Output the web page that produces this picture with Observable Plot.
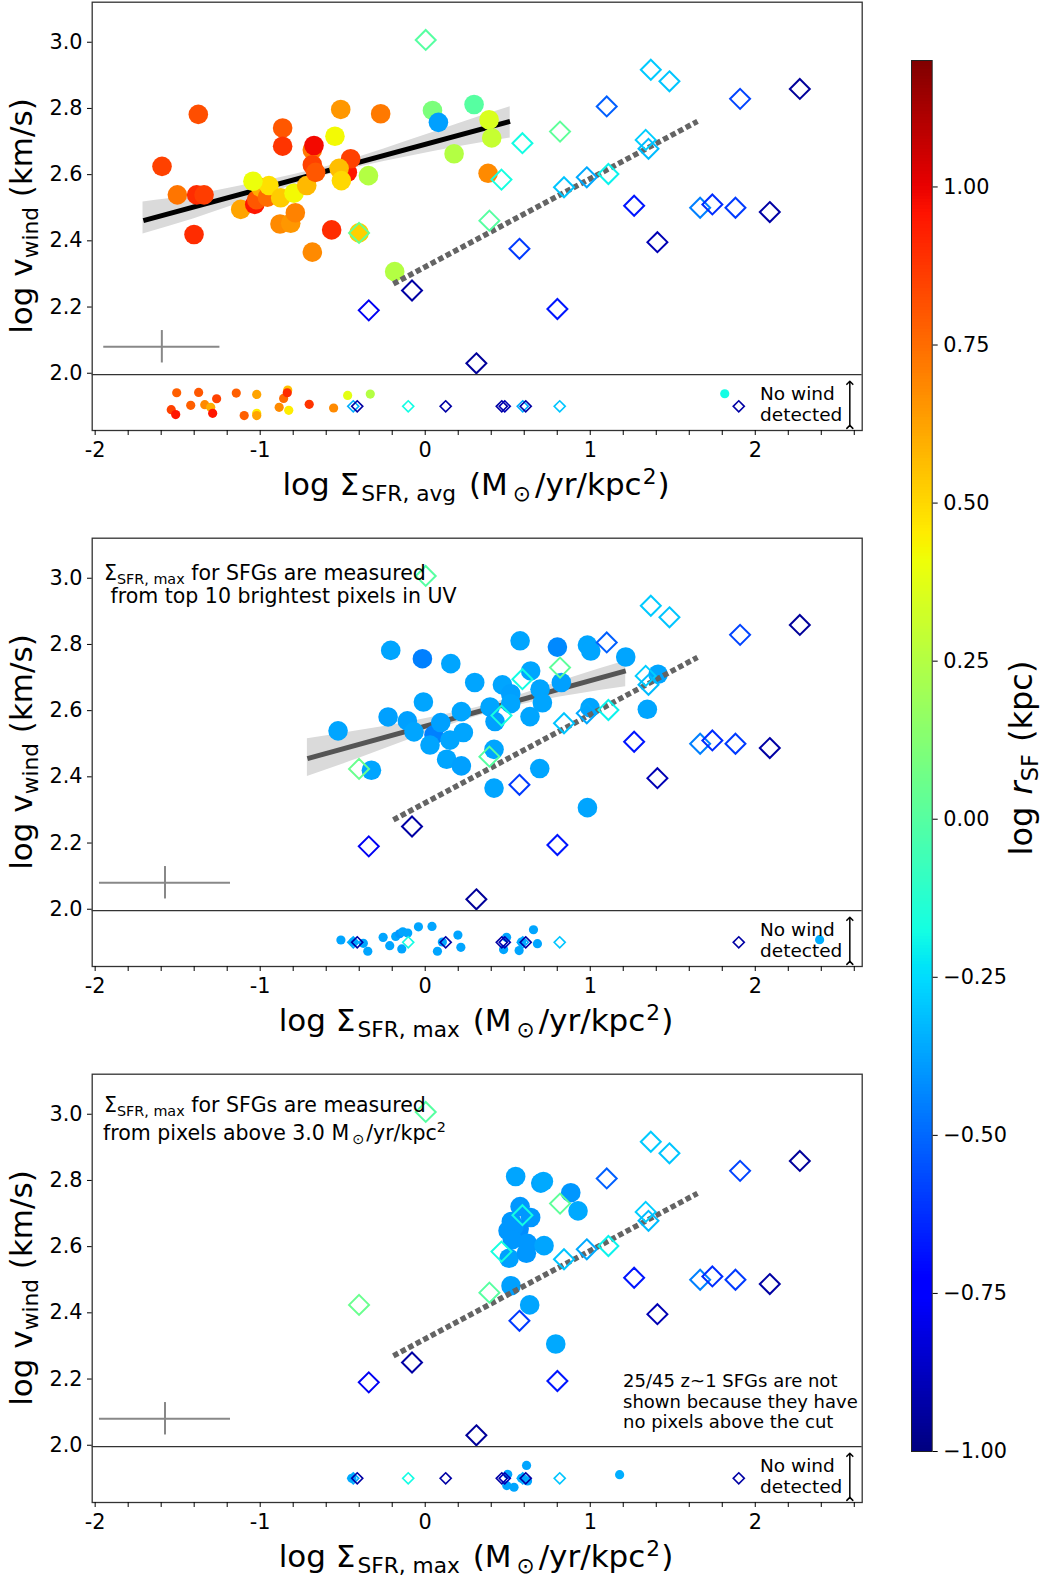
<!DOCTYPE html>
<html><head><meta charset="utf-8">
<script src="https://cdn.jsdelivr.net/npm/d3@7"></script>
<script src="https://cdn.jsdelivr.net/npm/@observablehq/plot@0.6"></script>
<style>
html,body{margin:0;padding:0;background:#fff;overflow:hidden;}
#root{position:relative;width:1045px;height:1579px;font-family:"DejaVu Sans",sans-serif;}
#root svg{position:absolute;overflow:visible;}
text{white-space:pre;}
</style></head><body><div id="root"></div>
<script>
// ---------------- data (x = log Σ_SFR, y = log v_wind, v = log r_SF) ----------------
// comparison sample (open diamonds), identical in all three panels
const diamonds = [
  [0.003,3.007,0.0],[1.367,2.917,-0.29],[1.48,2.882,-0.3],[1.10,2.806,-0.52],[1.908,2.829,-0.58],
  [2.27,2.859,-0.95],[0.817,2.73,0.02],[0.589,2.695,-0.18],[1.336,2.705,-0.28],[1.353,2.678,-0.32],
  [0.462,2.585,-0.17],[1.11,2.602,-0.2],[0.979,2.592,-0.36],[0.841,2.562,-0.3],[1.266,2.506,-0.68],
  [1.666,2.50,-0.45],[1.74,2.51,-0.63],[1.88,2.50,-0.6],[2.088,2.487,-0.93],[0.389,2.461,0.0],
  [1.407,2.396,-0.9],[0.571,2.376,-0.6],[0.801,2.194,-0.68],[0.31,2.030,-0.95],[-0.401,2.424,0.05],
  [-0.08,2.25,-0.93],[-0.342,2.19,-0.78]
];
const stripDiamondX = [-0.436,-0.412,-0.103,0.124,0.464,0.482,0.591,0.609,0.815,1.9];
const stripDiamondV = [-0.35,-0.93,-0.18,-0.93,-0.93,-0.9,-0.35,-0.93,-0.3,-0.93];
const stripDiamondY = 1.90;

// panel 1: Σ_SFR,avg
const avgCircles = [
  [-1.595,2.625,0.85],[-1.502,2.539,0.73],[-1.375,2.782,0.82],[-1.385,2.539,0.9],[-1.34,2.539,0.86],
  [-1.401,2.419,0.9],[-1.118,2.495,0.62],[-1.033,2.51,0.95],[-1.021,2.524,0.8],[-0.997,2.562,0.6],
  [-0.956,2.532,0.75],[-0.947,2.567,0.48],[-1.044,2.58,0.4],[-0.864,2.741,0.8],[-0.864,2.686,0.88],
  [-0.876,2.53,0.53],[-0.795,2.544,0.42],[-0.88,2.451,0.68],[-0.815,2.453,0.65],[-0.787,2.485,0.7],
  [-0.718,2.567,0.57],[-0.684,2.366,0.68],[-0.684,2.675,0.72],[-0.674,2.688,0.98],[-0.684,2.63,0.85],
  [-0.664,2.607,0.8],[-0.547,2.716,0.42],[-0.512,2.797,0.65],[-0.472,2.607,0.95],[-0.452,2.648,0.85],
  [-0.522,2.619,0.56],[-0.508,2.582,0.5],[-0.567,2.433,0.9],[-0.401,2.424,0.52],[-0.344,2.597,0.25],
  [-0.27,2.784,0.72],[-0.185,2.307,0.25],[0.044,2.794,0.1],[0.08,2.758,-0.38],[0.175,2.663,0.25],
  [0.296,2.812,0.0],[0.387,2.766,0.35],[0.403,2.711,0.3],[0.381,2.604,0.68]
];
const avgStrip = [
  [-1.506,1.941,0.78],[-1.539,1.890,0.85],[-1.512,1.875,0.95],[-1.373,1.942,0.8],[-1.421,1.903,0.78],
  [-1.336,1.905,0.68],[-1.30,1.897,0.6],[-1.288,1.879,0.95],[-1.264,1.923,0.85],[-1.145,1.940,0.78],
  [-1.097,1.872,0.78],[-1.021,1.936,0.62],[-1.021,1.879,0.45],[-1.021,1.872,0.62],[-0.885,1.897,0.68],
  [-0.858,1.924,0.75],[-0.833,1.949,0.55],[-0.836,1.941,0.9],[-0.827,1.888,0.45],[-0.703,1.906,0.88],
  [-0.555,1.895,0.68],[-0.470,1.933,0.38],[-0.333,1.937,0.25],[1.815,1.938,-0.18]
];
const avgFitX = [-1.708,0.514], avgFitY = [2.461,2.761];
const avgBandX  = [-1.71,-1.4,-1.1,-0.8,-0.6,-0.4,-0.1,0.2,0.515];
const avgBandLo = [2.421,2.467,2.518,2.568,2.598,2.623,2.655,2.684,2.711];
const avgBandHi = [2.517,2.539,2.568,2.600,2.624,2.653,2.703,2.754,2.805];

// panel 2: Σ_SFR,max (top 10 brightest pixels)
const top10Circles = [
  [-0.528,2.539,-0.37],[-0.209,2.782,-0.37],[-0.017,2.757,-0.45],[0.155,2.742,-0.37],[-0.225,2.581,-0.38],
  [-0.011,2.626,-0.37],[-0.108,2.569,-0.38],[-0.068,2.536,-0.37],[0.053,2.527,-0.45],[0.094,2.564,-0.38],
  [0.029,2.496,-0.37],[0.15,2.511,-0.37],[0.13,2.453,-0.37],[0.219,2.597,-0.37],[0.231,2.534,-0.37],
  [0.219,2.433,-0.38],[-0.326,2.420,-0.37],[0.30,2.685,-0.37],[0.393,2.611,-0.37],[0.423,2.567,-0.38],
  [0.468,2.678,-0.37],[0.518,2.651,-0.38],[0.518,2.621,-0.37],[0.417,2.483,-0.37],[0.417,2.366,-0.37],
  [0.635,2.582,-0.37],[0.575,2.811,-0.37],[0.639,2.720,-0.37],[0.696,2.665,-0.37],[0.71,2.624,-0.37],
  [0.694,2.425,-0.37],[0.801,2.792,-0.43],[0.825,2.685,-0.38],[0.983,2.798,-0.37],[1.003,2.78,-0.37],
  [0.999,2.609,-0.37],[0.983,2.307,-0.37],[1.215,2.762,-0.37],[1.411,2.71,-0.37],[1.346,2.604,-0.37]
];
const top10Strip = [
  [-0.511,1.907,-0.37],[-0.436,1.901,-0.37],[-0.375,1.897,-0.37],[-0.348,1.873,-0.37],[-0.255,1.915,-0.37],
  [-0.215,1.890,-0.37],[-0.179,1.918,-0.37],[-0.155,1.926,-0.4],[-0.136,1.932,-0.37],[-0.106,1.928,-0.37],
  [-0.142,1.88,-0.37],[-0.041,1.947,-0.37],[0.041,1.948,-0.37],[0.074,1.873,-0.37],[0.104,1.901,-0.37],
  [0.198,1.922,-0.37],[0.216,1.885,-0.37],[0.475,1.878,-0.37],[0.493,1.915,-0.37],[0.569,1.875,-0.37],
  [0.584,1.901,-0.37],[0.656,1.938,-0.37],[0.68,1.896,-0.37],[2.39,1.908,-0.35]
];
const top10FitX = [-0.714,1.215], top10FitY = [2.455,2.72];
const top10BandX  = [-0.714,-0.4,-0.1,0.2,0.4,0.6,0.9,1.215];
const top10BandLo = [2.401,2.456,2.512,2.565,2.595,2.620,2.648,2.672];
const top10BandHi = [2.515,2.540,2.566,2.597,2.621,2.652,2.702,2.750];

// panel 3: Σ_SFR,max (pixels above 3.0 Msun/yr/kpc^2)
const cutCircles = [
  [0.548,2.812,-0.37],[0.70,2.792,-0.37],[0.716,2.797,-0.36],[0.882,2.763,-0.4],[0.926,2.708,-0.36],
  [0.575,2.721,-0.4],[0.639,2.688,-0.4],[0.522,2.676,-0.4],[0.502,2.648,-0.4],[0.569,2.654,-0.42],
  [0.538,2.661,-0.4],[0.528,2.621,-0.4],[0.619,2.61,-0.4],[0.72,2.603,-0.37],[0.508,2.565,-0.38],
  [0.613,2.580,-0.4],[0.52,2.482,-0.38],[0.633,2.424,-0.37],[0.791,2.306,-0.36]
];
const cutStrip = [
  [-0.445,1.90,-0.37],[0.50,1.912,-0.37],[0.494,1.878,-0.37],[0.538,1.873,-0.37],[0.614,1.939,-0.37],
  [0.62,1.892,-0.37],[0.584,1.90,-0.37],[1.178,1.911,-0.35]
];

// shared reference relation (dotted) and typical error bar
const refLineX = [-0.193,1.65], refLineY = [2.27,2.761];
const errCenterX = [-1.596,-1.577,-1.577], errHalfX = [0.352,0.397,0.397];
const errCenterY = 2.08, errHalfY = 0.049;
const stripDivider = 1.996;
const noWindArrowX = 2.573, noWindArrowY = [1.838,1.971];

const xTicks = [-2,-1.8,-1.6,-1.4,-1.2,-1,-0.8,-0.6,-0.4,-0.2,0,0.2,0.4,0.6,0.8,1,1.2,1.4,1.6,1.8,2,2.2,2.4,2.6];
const yTicks = [2.0,2.2,2.4,2.6,2.8,3.0];
const cbTicks = [-1,-0.75,-0.5,-0.25,0,0.25,0.5,0.75,1];

// ---------------- jet colormap ----------------
function jet(t) {
  const c = Math.max(0, Math.min(1, t));
  const seg = (pts) => {
    for (let i = 1; i < pts.length; i++) {
      if (c <= pts[i][0]) {
        const [x0,y0] = pts[i-1], [x1,y1] = pts[i];
        return y0 + (y1 - y0) * (c - x0) / (x1 - x0);
      }
    }
    return pts[pts.length-1][1];
  };
  const r = seg([[0,0],[0.35,0],[0.66,1],[0.89,1],[1,0.5]]);
  const g = seg([[0,0],[0.125,0],[0.375,1],[0.64,1],[0.91,0],[1,0]]);
  const b = seg([[0,0.5],[0.11,1],[0.34,1],[0.65,0],[1,0]]);
  return `rgb(${Math.round(r*255)},${Math.round(g*255)},${Math.round(b*255)})`;
}
const colorScale = {type:"linear", domain:[-1,1.2], interpolate: jet};

const toObj = (a) => a.map(([x,y,v]) => ({x,y,v}));
const zip2 = (xs, ys) => xs.map((x,i) => ({x, y: ys[i]}));
const bandObj = (xs, lo, hi) => xs.map((x,i) => ({x, lo: lo[i], hi: hi[i]}));

// ---------------- rich text helper ----------------
function rich(svg, {x, y, size, anchor = "start", rotate = false, parts}) {
  const t = d3.select(svg).append("text")
    .attr("font-family", "DejaVu Sans, sans-serif")
    .attr("font-size", size).attr("fill", "#000")
    .attr("text-anchor", anchor);
  if (rotate) t.attr("transform", `translate(${x},${y}) rotate(-90)`);
  else t.attr("x", x).attr("y", y);
  let off = 0;
  for (const p of parts) {
    const target = p.sub ? size * 0.2 : p.sup ? -size * 0.36 : 0;
    const ts = t.append("tspan").text(p.s).attr("dy", target - off);
    off = target;
    if (p.sub || p.sup) ts.attr("font-size", size * 0.7);
    if (p.italic) ts.attr("font-style", "italic");
    if (p.dx) ts.attr("dx", p.dx);
  }
  return t;
}

// ---------------- panels ----------------
const root = document.getElementById("root");
const PANEL_H = 535.8;
const TITLE = 31;

function panel(idx, cfg) {
  const marks = [];
  if (cfg.band) marks.push(Plot.areaY(cfg.band, {x:"x", y1:"lo", y2:"hi", fill:"#dadada", curve:"monotone-x"}));
  if (cfg.fit) marks.push(Plot.line(cfg.fit, {x:"x", y:"y", stroke: cfg.fitColor, strokeWidth: 5, strokeLinecap:"butt"}));
  marks.push(Plot.dot(cfg.circles, {x:"x", y:"y", fill:"v", r: 9.8}));
  marks.push(Plot.dot(cfg.strip, {x:"x", y:"y", fill:"v", r: 4.6}));
  marks.push(Plot.line(zip2(refLineX, refLineY), {x:"x", y:"y", stroke:"#646464", strokeWidth:5.5,
    strokeDasharray:"5.5,3", strokeLinecap:"butt"}));
  marks.push(Plot.dot(toObj(diamonds), {x:"x", y:"y", stroke:"v", symbol:"diamond2", r: 9, strokeWidth: 2}));
  marks.push(Plot.dot(stripDiamondX.map((x,i)=>({x, y: stripDiamondY, v: stripDiamondV[i]})),
    {x:"x", y:"y", stroke:"v", symbol:"diamond2", r: 5, strokeWidth: 1.6}));
  const err = [{x: errCenterX[idx], hx: errHalfX[idx], y: errCenterY, hy: errHalfY}];
  marks.push(Plot.ruleY(err, {y:"y", x1: d => d.x - d.hx, x2: d => d.x + d.hx, stroke:"#888", strokeWidth:2}));
  marks.push(Plot.ruleX(err, {x:"x", y1: d => d.y - d.hy, y2: d => d.y + d.hy, stroke:"#888", strokeWidth:2}));
  marks.push(Plot.ruleY([stripDivider], {stroke:"#333", strokeWidth:1.3}));
  marks.push(Plot.link([{x: noWindArrowX, y1: noWindArrowY[0], y2: noWindArrowY[1]}],
    {x1:"x", x2:"x", y1:"y1", y2:"y2", stroke:"#000", strokeWidth:1.5, markerStart:"arrow", markerEnd:"arrow"}));
  marks.push(Plot.frame({stroke:"#333", strokeWidth:1.3}));
  marks.push(Plot.axisX(xTicks, {anchor:"bottom", tickSize:5, tickPadding:7, fontSize:20.8, label:null,
    tickFormat: d => Math.abs(d - Math.round(d)) < 1e-9 ? String(Math.round(d)) : ""}));
  marks.push(Plot.axisY(yTicks, {anchor:"left", tickSize:4.7, tickPadding:5, fontSize:20.8, label:null,
    tickFormat: d => d.toFixed(1)}));

  const svg = Plot.plot({
    width: 870, height: 536,
    marginLeft: 91.7, marginRight: 8.3, marginTop: 1.7, marginBottom: 106,
    x: {domain: [-2.018, 2.648]},
    y: {domain: [1.827, 3.121]},
    color: colorScale,
    style: {fontFamily: "DejaVu Sans, sans-serif", background: "transparent", color: "#000"},
    marks
  });
  svg.style.left = "0px";
  svg.style.top = (idx * PANEL_H) + "px";
  root.appendChild(svg);

  // axis titles
  rich(svg, {x: 32, y: 216, size: TITLE, anchor: "middle", rotate: true,
    parts: [{s:"log v"},{s:"wind", sub:true},{s:" (km/s)"}]});
  rich(svg, {x: 476, y: 495, size: TITLE, anchor: "middle",
    parts: [{s:"log Σ"},{s: cfg.xsub, sub:true, dx: 2},{s:" (M", dx: 3},{s:"⊙", sub:true, dx: 5},{s:"/yr/kpc", dx: 4},{s:"2", sup:true, dx: 1},{s:")", dx: 1}]});
  // no wind legend
  rich(svg, {x: 760, y: 400, size: 18.5, parts: [{s:"No wind"}]});
  rich(svg, {x: 760, y: 421, size: 18.5, parts: [{s:"detected"}]});
  if (cfg.notes) cfg.notes.forEach(n => rich(svg, n));
}

panel(0, {
  circles: toObj(avgCircles), strip: toObj(avgStrip),
  fit: zip2(avgFitX, avgFitY), fitColor: "#000",
  band: bandObj(avgBandX, avgBandLo, avgBandHi),
  xsub: "SFR, avg"
});
panel(1, {
  circles: toObj(top10Circles), strip: toObj(top10Strip),
  fit: zip2(top10FitX, top10FitY), fitColor: "#555",
  band: bandObj(top10BandX, top10BandLo, top10BandHi),
  xsub: "SFR, max",
  notes: [
    {x: 104, y: 43.5, size: 20.5, parts: [{s:"Σ"},{s:"SFR, max", sub:true},{s:" for SFGs are measured"}]},
    {x: 104, y: 67.2, size: 20.5, parts: [{s:" from top 10 brightest pixels in UV"}]}
  ]
});
panel(2, {
  circles: toObj(cutCircles), strip: toObj(cutStrip),
  xsub: "SFR, max",
  notes: [
    {x: 104, y: 40, size: 20.5, parts: [{s:"Σ"},{s:"SFR, max", sub:true},{s:" for SFGs are measured"}]},
    {x: 103, y: 67.7, size: 20.5, parts: [{s:"from pixels above 3.0 M"},{s:"⊙", sub:true, dx: 3},{s:"/yr/kpc", dx: 2},{s:"2", sup:true}]},
    {x: 623, y: 315, size: 18, parts: [{s:"25/45 z~1 SFGs are not"}]},
    {x: 623, y: 335.7, size: 18, parts: [{s:"shown because they have"}]},
    {x: 623, y: 355.7, size: 18, parts: [{s:"no pixels above the cut"}]}
  ]
});

// ---------------- colorbar ----------------
const step = 0.005;
const ramp = d3.range(-1, 1.2, step).map(a => ({a, b: Math.min(1.2, a + step), m: a + step / 2}));
const cb = Plot.plot({
  width: 175, height: 1579,
  marginTop: 60, marginBottom: 128, marginLeft: 41, marginRight: 113.3,
  x: {domain: [0, 1], axis: null},
  y: {domain: [-1, 1.2], axis: null},
  color: colorScale,
  style: {fontFamily: "DejaVu Sans, sans-serif", background: "transparent", color: "#000"},
  marks: [
    Plot.rect(ramp, {x1: 0, x2: 1, y1: "a", y2: "b", fill: "m", shapeRendering: "crispEdges"}),
    Plot.frame({stroke: "#222", strokeWidth: 1}),
    Plot.axisY(cbTicks, {anchor: "right", tickSize: 5, tickPadding: 6, fontSize: 20.8, label: null,
      tickFormat: d => (d < 0 ? "\u2212" : "") + Math.abs(d).toFixed(2)})
  ]
});
cb.style.left = "870px";
cb.style.top = "0px";
root.appendChild(cb);
rich(cb, {x: 162, y: 758, size: 32, anchor: "middle", rotate: true,
  parts: [{s:"log "},{s:"r", italic:true, dx: 2},{s:"SF", sub:true},{s:" (kpc)", dx: 2}]});
</script></body></html>
